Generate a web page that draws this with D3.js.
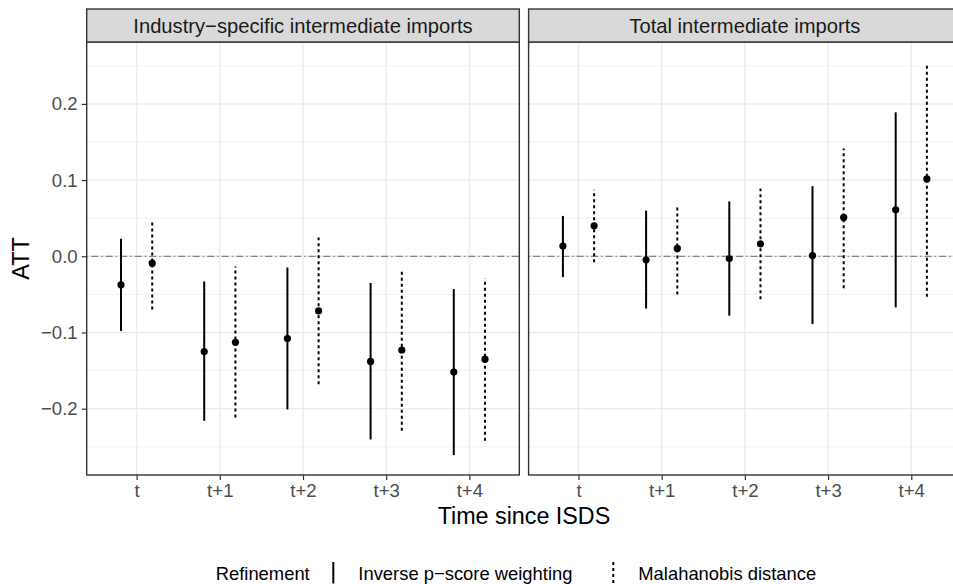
<!DOCTYPE html>
<html lang="en">

<head>
  <meta charset="UTF-8">
  <title>att-by-period</title>
  <script src="https://cdn.jsdelivr.net/npm/d3@7"></script>
  <style>
    body { margin: 0; background: #fff; }
    text { font-family: "Liberation Sans", Arial, sans-serif; }
  </style>
</head>

<body>
<script>
// data
var periods = ['t', 't+1', 't+2', 't+3', 't+4'];
var panels = ['Industry\u2212specific intermediate imports', 'Total intermediate imports'];
var methods = ['Inverse p\u2212score weighting', 'Malahanobis distance'];
var yTicks = [-0.2, -0.1, 0, 0.1, 0.2];

var industryIpwEst = [-0.0375, -0.125, -0.108, -0.138, -0.152];
var industryIpwLo = [-0.098, -0.216, -0.201, -0.2405, -0.261];
var industryIpwHi = [0.023, -0.033, -0.0147, -0.035, -0.043];

var industryMdEst = [-0.009, -0.113, -0.0717, -0.123, -0.135];
var industryMdLo = [-0.070, -0.2116, -0.168, -0.229, -0.242];
var industryMdHi = [0.048, -0.0134, 0.0247, -0.017, -0.029];

var totalIpwEst = [0.0134, -0.0046, -0.0029, 0.001, 0.061];
var totalIpwLo = [-0.0274, -0.0686, -0.078, -0.089, -0.067];
var totalIpwHi = [0.053, 0.0599, 0.072, 0.092, 0.189];

var totalMdEst = [0.040, 0.0103, 0.0164, 0.051, 0.1016];
var totalMdLo = [-0.0077, -0.050, -0.0564, -0.042, -0.053];
var totalMdHi = [0.0875, 0.0678, 0.089, 0.1414, 0.253];

function rows(panel, method, est, lo, hi) {
  return periods.map(function (p, i) {
    return { panel: panel, method: method, period: p, est: est[i], lo: lo[i], hi: hi[i] };
  });
}

var data = [].concat(
  rows(0, 0, industryIpwEst, industryIpwLo, industryIpwHi),
  rows(0, 1, industryMdEst, industryMdLo, industryMdHi),
  rows(1, 0, totalIpwEst, totalIpwLo, totalIpwHi),
  rows(1, 1, totalMdEst, totalMdLo, totalMdHi)
);

var width = 953, height = 584;
var panelTop = 42, panelBottom = 475, stripTop = 9;
var panelX = [[86.7, 519.3], [528.6, 961.2]];
var dodge = 0.1875;
var dashFor = ['none', '3,3'];
var gridMajor = '#EBEBEB', border = '#333333';

var svg = d3.select('body').append('svg')
  .attr('width', width)
  .attr('height', height);

var y = d3.scaleLinear()
  .domain([-0.2871, 0.2813])
  .range([panelBottom, panelTop]);

var minorTicks = d3.range(-0.25, 0.26, 0.1);

panels.forEach(function (name, pi) {
  var x = d3.scaleLinear()
    .domain([0.4, periods.length + 0.6])
    .range(panelX[pi]);
  var g = svg.append('g');
  var left = panelX[pi][0], right = panelX[pi][1];

  // grid
  g.selectAll('line.minor').data(minorTicks).enter().append('line')
    .attr('x1', left).attr('x2', right)
    .attr('y1', function (d) { return y(d); })
    .attr('y2', function (d) { return y(d); })
    .attr('stroke', gridMajor).attr('stroke-width', 0.7);
  g.selectAll('line.major').data(yTicks).enter().append('line')
    .attr('x1', left).attr('x2', right)
    .attr('y1', function (d) { return y(d); })
    .attr('y2', function (d) { return y(d); })
    .attr('stroke', gridMajor).attr('stroke-width', 1.4);
  g.selectAll('line.vmajor').data(periods).enter().append('line')
    .attr('x1', function (d, i) { return x(i + 1); })
    .attr('x2', function (d, i) { return x(i + 1); })
    .attr('y1', panelTop).attr('y2', panelBottom)
    .attr('stroke', gridMajor).attr('stroke-width', 1.4);

  // zero reference
  g.append('line')
    .attr('x1', left).attr('x2', right)
    .attr('y1', y(0)).attr('y2', y(0))
    .attr('stroke', '#858585').attr('stroke-width', 1.3)
    .attr('stroke-dasharray', '1.5,3,7,3');

  var sub = data.filter(function (d) { return d.panel === pi; });
  function xPos(d) {
    return x(periods.indexOf(d.period) + 1 + (d.method === 0 ? -dodge : dodge));
  }
  g.selectAll('line.ci').data(sub).enter().append('line')
    .attr('x1', xPos).attr('x2', xPos)
    .attr('y1', function (d) { return y(d.lo); })
    .attr('y2', function (d) { return y(d.hi); })
    .attr('stroke', '#000').attr('stroke-width', 2)
    .attr('stroke-dasharray', function (d) { return dashFor[d.method]; });
  g.selectAll('circle').data(sub).enter().append('circle')
    .attr('cx', xPos)
    .attr('cy', function (d) { return y(d.est); })
    .attr('r', 3.6)
    .attr('fill', '#000');

  // panel border
  g.append('rect')
    .attr('x', left).attr('y', panelTop)
    .attr('width', right - left).attr('height', panelBottom - panelTop)
    .attr('fill', 'none').attr('stroke', border).attr('stroke-width', 1.4);

  // strip
  g.append('rect')
    .attr('x', left).attr('y', stripTop)
    .attr('width', right - left).attr('height', panelTop - stripTop)
    .attr('fill', '#D9D9D9').attr('stroke', border).attr('stroke-width', 1.4);
  g.append('text')
    .attr('x', (left + right) / 2)
    .attr('y', 33)
    .attr('text-anchor', 'middle')
    .attr('fill', '#1A1A1A')
    .style('font-size', '20.2px')
    .text(name);

  // x axis
  var xAxis = d3.axisBottom(x)
    .tickValues(d3.range(1, periods.length + 1))
    .tickFormat(function (d) { return periods[d - 1]; })
    .tickSize(5).tickPadding(4);
  var ax = g.append('g')
    .attr('transform', 'translate(0,' + panelBottom + ')')
    .call(xAxis);
  ax.select('.domain').remove();
  ax.selectAll('line').attr('stroke', border).attr('stroke-width', 1.2);
  ax.selectAll('text').attr('fill', '#4D4D4D').style('font-size', '18.6px')
    .style('font-family', '"Liberation Sans", Arial, sans-serif');

  if (pi === 0) {
    var yAxis = d3.axisLeft(y)
      .tickValues(yTicks)
      .tickFormat(function (d) { return d3.format('.1f')(d).replace('-', '\u2212'); })
      .tickSize(5).tickPadding(4);
    var ay = g.append('g')
      .attr('transform', 'translate(' + left + ',0)')
      .call(yAxis);
    ay.select('.domain').remove();
    ay.selectAll('line').attr('stroke', border).attr('stroke-width', 1.2);
    ay.selectAll('text').attr('fill', '#4D4D4D').style('font-size', '18.6px')
      .style('font-family', '"Liberation Sans", Arial, sans-serif');
  }
});

// axis titles
svg.append('text')
  .attr('x', (panelX[0][0] + panelX[1][1]) / 2)
  .attr('y', 524)
  .attr('text-anchor', 'middle')
  .style('font-size', '23.3px')
  .text('Time since ISDS');
svg.append('text')
  .attr('transform', 'translate(29,' + (panelTop + panelBottom) / 2 + ') rotate(-90)')
  .attr('text-anchor', 'middle')
  .style('font-size', '23.3px')
  .text('ATT');

// legend
var legend = svg.append('g');
legend.append('text')
  .attr('x', 215.7).attr('y', 580)
  .style('font-size', '18.4px')
  .text('Refinement');
var keyX = [333.3, 613.3], labelX = [358.3, 638.3];
methods.forEach(function (m, i) {
  legend.append('line')
    .attr('x1', keyX[i]).attr('x2', keyX[i])
    .attr('y1', 562).attr('y2', 583.5)
    .attr('stroke', '#000').attr('stroke-width', 2)
    .attr('stroke-dasharray', dashFor[i]);
  legend.append('text')
    .attr('x', labelX[i]).attr('y', 580)
    .style('font-size', '18.4px')
    .text(m);
});
</script>
</body>

</html>
